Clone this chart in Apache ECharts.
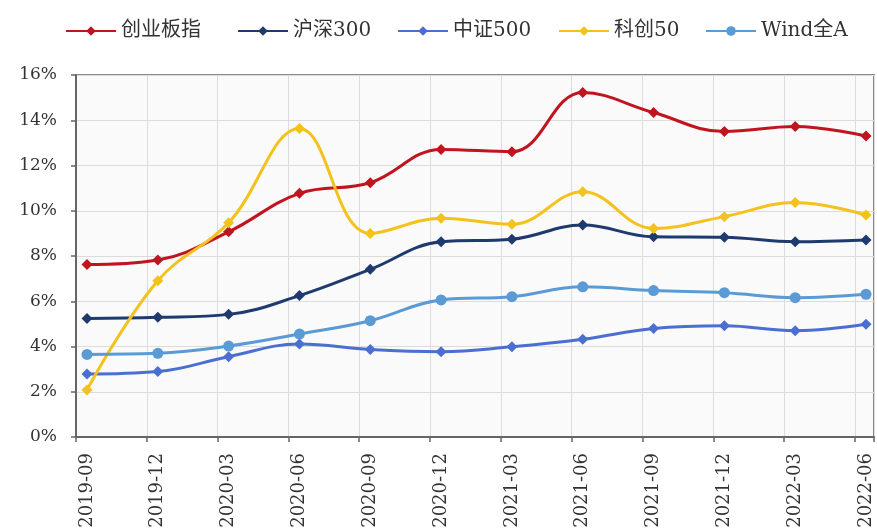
<!DOCTYPE html>
<html>
<head>
<meta charset="utf-8">
<script src="https://cdn.jsdelivr.net/npm/echarts@6/dist/echarts.min.js"></script>
<style>
  html, body { margin: 0; padding: 0; background: #ffffff; }
  #chart { width: 877px; height: 532px; }
</style>
</head>
<body>
<div id="chart"></div>
<script>
// Quarter-end dates on the horizontal axis
const quarters = ['2019-09', '2019-12', '2020-03', '2020-06', '2020-09', '2020-12',
                  '2021-03', '2021-06', '2021-09', '2021-12', '2022-03', '2022-06'];

// Index values (%) per quarter
const chinext   = [7.62, 7.82, 9.07, 10.77, 11.24, 12.71, 12.61, 15.23, 14.34, 13.50, 13.72, 13.30];
const csi300    = [5.24, 5.29, 5.42, 6.25, 7.41, 8.63, 8.74, 9.37, 8.85, 8.83, 8.63, 8.71];
const csi500    = [2.78, 2.89, 3.55, 4.11, 3.87, 3.77, 3.99, 4.32, 4.80, 4.92, 4.70, 4.98];
const star50    = [2.08, 6.91, 9.47, 13.64, 9.00, 9.67, 9.40, 10.84, 9.22, 9.74, 10.36, 9.81];
const windAll   = [3.65, 3.70, 4.02, 4.55, 5.14, 6.06, 6.20, 6.64, 6.47, 6.38, 6.16, 6.31];

const seriesNames = ['创业板指', '沪深300', '中证500', '科创50', 'Wind全A'];
const yTicks = { min: 0, max: 16, step: 2 };

const latinFont = '"DejaVu Serif", "Noto Sans CJK SC", serif';
const textColor = '#333333';
const axisDark = '#666666';
const gridGray = '#dcdcdc';

const chart = echarts.init(document.getElementById('chart'), null, { renderer: 'canvas' });

function lineSeries(name, data, color, symbol, size) {
  return {
    name: name,
    type: 'line',
    xAxisIndex: 1,
    yAxisIndex: 1,
    data: data,
    smooth: 0.4,
    symbol: symbol,
    symbolSize: size,
    showSymbol: true,
    lineStyle: { color: color, width: 3 },
    itemStyle: { color: color },
    emphasis: { disabled: true },
    animation: false
  };
}

function legendAt(name, left) {
  return {
    data: [name],
    left: left,
    top: 16,
    itemWidth: 50,
    itemHeight: 12,
    itemGap: 0,
    textStyle: { fontFamily: latinFont, fontSize: 20, color: '#333333' }
  };
}

chart.setOption({
  backgroundColor: '#ffffff',
  animation: false,
  legend: [
    legendAt(seriesNames[0], 60),
    legendAt(seriesNames[1], 232),
    legendAt(seriesNames[2], 392),
    legendAt(seriesNames[3], 553),
    legendAt(seriesNames[4], 700)
  ],
  grid: [
    // frame, gridlines and ticks
    { left: 76, right: 3, top: 75, bottom: 95, show: true,
      backgroundColor: '#fafafa', borderColor: '#8a8a8a', borderWidth: 2 },
    // data area, points sit between tick marks
    { left: 87, right: 11, top: 75, bottom: 95 }
  ],
  xAxis: [
    {
      gridIndex: 0,
      type: 'value',
      min: 0,
      max: 11.27,
      interval: 1,
      axisLine: { show: true, onZero: false, lineStyle: { color: axisDark, width: 2 } },
      axisTick: { show: true, length: 5, lineStyle: { color: axisDark, width: 1.5 } },
      axisLabel: { show: false },
      splitLine: { show: true, lineStyle: { color: gridGray, width: 1 } }
    },
    {
      gridIndex: 1,
      type: 'category',
      data: quarters,
      boundaryGap: false,
      axisLine: { show: false },
      axisTick: { show: false },
      splitLine: { show: false },
      axisLabel: {
        rotate: 90,
        margin: 16,
        interval: 0,
        fontFamily: latinFont,
        fontSize: 18,
        color: textColor
      }
    }
  ],
  yAxis: [
    {
      gridIndex: 0,
      type: 'value',
      min: yTicks.min,
      max: yTicks.max,
      interval: yTicks.step,
      axisLine: { show: true, lineStyle: { color: axisDark, width: 2 } },
      axisTick: { show: true, length: 5, lineStyle: { color: axisDark, width: 1.5 } },
      axisLabel: {
        formatter: '{value}%',
        margin: 19,
        fontFamily: latinFont,
        fontSize: 17,
        color: textColor
      },
      splitLine: { show: true, lineStyle: { color: gridGray, width: 1 } }
    },
    {
      gridIndex: 1,
      type: 'value',
      min: yTicks.min,
      max: yTicks.max,
      show: false
    }
  ],
  series: [
    lineSeries(seriesNames[0], chinext, '#c0141f', 'diamond', 11),
    lineSeries(seriesNames[1], csi300, '#1f3a6e', 'diamond', 11),
    lineSeries(seriesNames[2], csi500, '#4a6fd0', 'diamond', 11),
    lineSeries(seriesNames[3], star50, '#f3c21c', 'diamond', 11),
    lineSeries(seriesNames[4], windAll, '#5b9bd5', 'circle', 11)
  ]
});
</script>
</body>
</html>
